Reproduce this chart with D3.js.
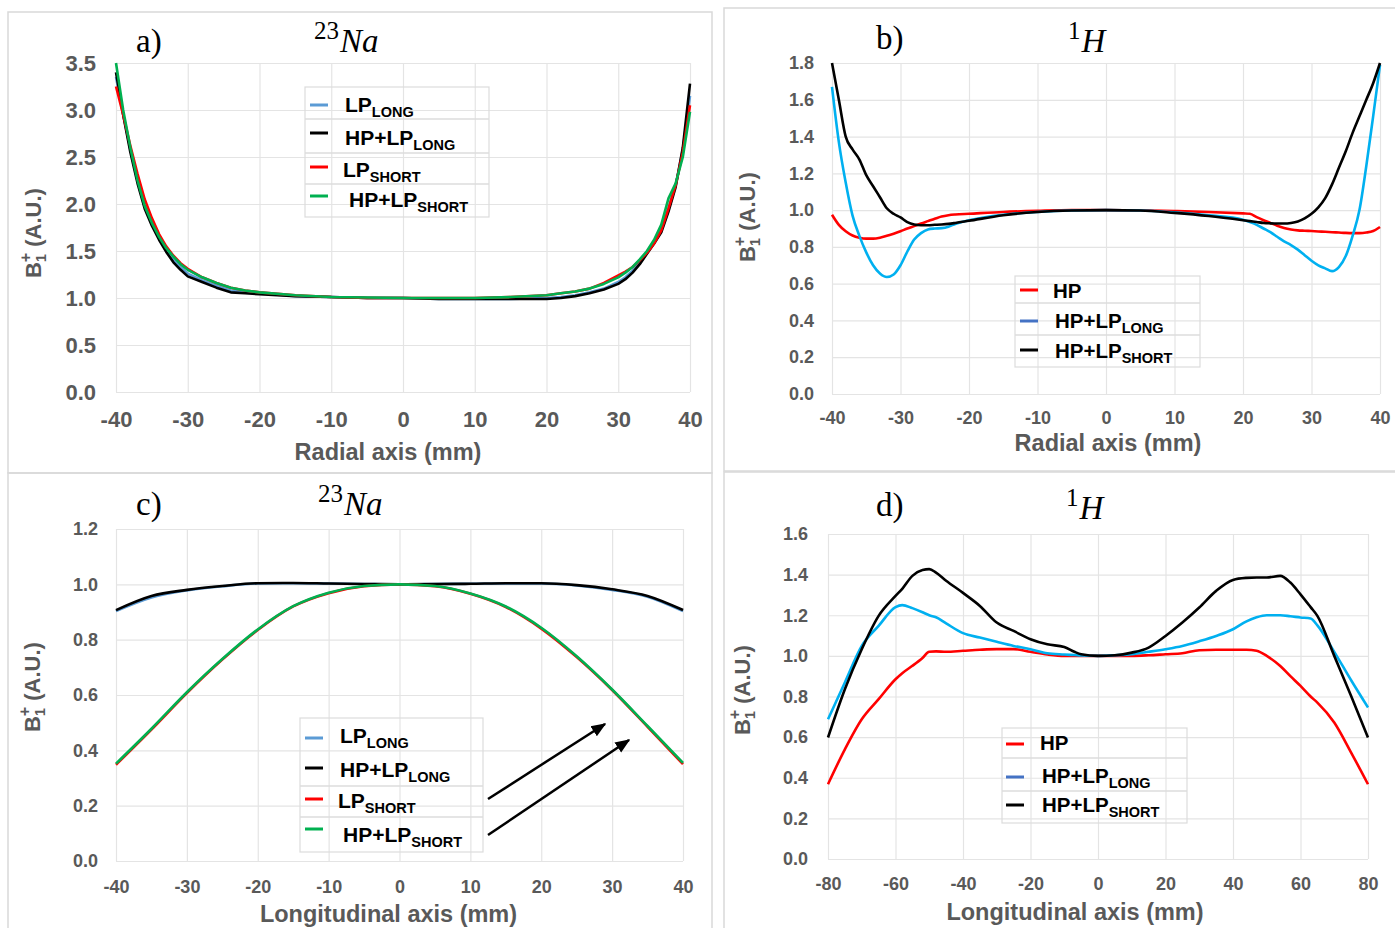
<!DOCTYPE html>
<html><head><meta charset="utf-8">
<script src="https://cdn.jsdelivr.net/npm/d3@7"></script>
<style>body{margin:0;background:#fff;} svg{display:block;}</style>
</head><body>
<svg id="chart" width="1395" height="928"></svg>
<script>
// ---------------- DATA ----------------
const radialTicks = [-40,-30,-20,-10,0,10,20,30,40];
const longTicksC = [-40,-30,-20,-10,0,10,20,30,40];
const longTicksD = [-80,-60,-40,-20,0,20,40,60,80];
const aYTicks = [0,0.5,1.0,1.5,2.0,2.5,3.0,3.5];
const bYTicks = [0,0.2,0.4,0.6,0.8,1.0,1.2,1.4,1.6,1.8];
const cYTicks = [0,0.2,0.4,0.6,0.8,1.0,1.2];
const dYTicks = [0,0.2,0.4,0.6,0.8,1.0,1.2,1.4,1.6];

// Panel a) 23Na radial
const aX = [-40,-39,-38,-37,-36,-35,-34,-33,-32,-31,-30,-28,-26,-24,-22,-20,-15,-10,-5,0,5,10,15,20,22,24,26,28,30,31,32,33,34,35,36,37,38,39,40];
const aLpLong    = [3.35,2.95,2.58,2.25,1.97,1.79,1.64,1.51,1.41,1.33,1.26,1.19,1.13,1.08,1.06,1.05,1.02,1.01,1.0,1.0,0.99,0.99,0.99,1.0,1.01,1.03,1.06,1.10,1.17,1.22,1.29,1.37,1.48,1.60,1.74,1.96,2.20,2.58,3.15];
const aHpLpLong  = [3.40,2.95,2.55,2.22,1.95,1.77,1.62,1.49,1.38,1.30,1.23,1.17,1.11,1.06,1.05,1.04,1.02,1.01,1.0,1.0,0.99,0.99,0.99,0.99,1.0,1.02,1.05,1.09,1.15,1.20,1.27,1.36,1.47,1.58,1.70,1.92,2.18,2.60,3.28];
const aLpShort   = [3.25,2.95,2.62,2.32,2.05,1.85,1.68,1.55,1.45,1.37,1.31,1.22,1.16,1.11,1.08,1.06,1.03,1.01,1.0,1.0,1.0,1.0,1.01,1.03,1.05,1.07,1.10,1.16,1.24,1.28,1.33,1.40,1.48,1.58,1.72,1.95,2.20,2.55,3.05];
const aHpLpShort = [3.50,3.00,2.60,2.25,1.98,1.80,1.65,1.53,1.44,1.36,1.30,1.22,1.16,1.11,1.08,1.06,1.03,1.01,1.005,1.0,1.0,1.0,1.01,1.03,1.05,1.07,1.10,1.15,1.22,1.27,1.33,1.41,1.50,1.62,1.78,2.06,2.22,2.50,2.98];

// Panel b) 1H radial
const bX = [-40,-39,-38,-37,-36,-35,-34,-33,-32,-31,-30,-29,-28,-27,-26,-25,-24,-23,-22,-20,-15,-10,-5,0,5,10,15,20,21,22,23,24,25,26,27,28,29,30,31,32,33,34,35,36,37,38,39,40];
const bHp       = [0.975,0.92,0.885,0.862,0.85,0.845,0.845,0.85,0.86,0.872,0.885,0.90,0.913,0.927,0.94,0.953,0.965,0.972,0.976,0.98,0.99,0.996,1.0,1.0,0.998,0.995,0.99,0.982,0.98,0.962,0.945,0.93,0.915,0.903,0.895,0.89,0.888,0.886,0.884,0.882,0.88,0.878,0.876,0.875,0.875,0.878,0.886,0.908];
const bHpLpLong = [1.67,1.37,1.15,0.97,0.86,0.77,0.70,0.655,0.636,0.65,0.70,0.775,0.84,0.875,0.895,0.90,0.902,0.91,0.925,0.945,0.975,0.99,0.998,1.0,0.998,0.988,0.972,0.948,0.935,0.92,0.90,0.88,0.855,0.83,0.81,0.785,0.755,0.725,0.70,0.683,0.668,0.69,0.75,0.86,1.0,1.24,1.51,1.79];
const bHpLpShort= [1.80,1.60,1.40,1.33,1.275,1.19,1.13,1.07,1.01,0.98,0.96,0.935,0.922,0.918,0.918,0.92,0.922,0.925,0.93,0.942,0.972,0.99,0.998,1.0,0.998,0.985,0.968,0.945,0.94,0.935,0.93,0.928,0.927,0.927,0.93,0.938,0.955,0.98,1.015,1.065,1.14,1.23,1.32,1.42,1.51,1.60,1.69,1.80];

// Panel c) 23Na longitudinal
const cX = [-40,-35,-30,-25,-20,-15,-10,-5,0,5,10,15,20,25,30,35,40];
const cLpLong    = [0.903,0.952,0.978,0.993,1.003,1.004,1.003,1.001,1.0,1.001,1.002,1.003,1.003,0.996,0.980,0.955,0.903];
const cHpLpLong  = [0.907,0.958,0.980,0.994,1.004,1.005,1.003,1.001,1.0,1.001,1.002,1.004,1.004,0.997,0.982,0.958,0.907];
const cLpShort   = [0.348,0.475,0.607,0.728,0.835,0.920,0.968,0.993,1.0,0.993,0.966,0.918,0.840,0.737,0.618,0.485,0.350];
const cHpLpShort = [0.352,0.478,0.610,0.730,0.837,0.921,0.970,0.994,1.0,0.994,0.967,0.920,0.843,0.740,0.620,0.488,0.355];

// Panel d) 1H longitudinal
const dX = [-80,-75,-70,-65,-60,-58,-55,-52,-50,-48,-45,-40,-35,-30,-25,-20,-15,-10,-7,-5,0,5,10,15,20,25,30,35,40,44,47,50,54,57,60,63,65,70,75,80];
const dHp        = [0.368,0.54,0.688,0.787,0.885,0.915,0.951,0.99,1.02,1.022,1.02,1.025,1.03,1.033,1.033,1.02,1.007,1.0,1.0,1.0,1.0,1.0,1.0,1.003,1.008,1.013,1.028,1.03,1.03,1.03,1.025,1.0,0.95,0.90,0.852,0.80,0.77,0.672,0.524,0.368];
const dHpLpLong  = [0.688,0.869,1.049,1.148,1.24,1.25,1.235,1.215,1.20,1.19,1.16,1.112,1.09,1.069,1.049,1.033,1.013,1.007,1.004,1.002,1.0,1.003,1.008,1.02,1.033,1.049,1.072,1.098,1.131,1.17,1.19,1.20,1.20,1.195,1.189,1.184,1.15,1.02,0.88,0.746];
const dHpLpShort = [0.598,0.836,1.033,1.197,1.295,1.33,1.394,1.423,1.427,1.41,1.37,1.31,1.246,1.164,1.123,1.082,1.057,1.044,1.02,1.008,1.0,1.003,1.016,1.041,1.098,1.164,1.238,1.32,1.374,1.384,1.386,1.386,1.394,1.361,1.303,1.24,1.197,1.0,0.803,0.598];

// ---------------- DRAWING ----------------
const svg = d3.select("#chart");
const GRAY = "#595959";
const SANS = "'Liberation Sans', Arial, sans-serif";
const SERIF = "'Liberation Serif', 'Times New Roman', serif";
const C = {blue:"#5B9BD5", black:"#000000", red:"#FF0000", green:"#00B050", cyan:"#00B0F0", legBlue:"#4472C4"};

// panel frames
[[8,12,704,461],[724,8,680,463],[8,473,704,460],[724,472,680,460]].forEach(r=>{
  svg.append("rect").attr("x",r[0]).attr("y",r[1]).attr("width",r[2]).attr("height",r[3])
    .attr("fill","none").attr("stroke","#d9d9d9").attr("stroke-width",1.5);
});

function drawPanel(p){
  const x = d3.scaleLinear().domain([p.xTicks[0], p.xTicks[p.xTicks.length-1]]).range([p.left,p.right]);
  const y = d3.scaleLinear().domain([p.yTicks[0], p.yTicks[p.yTicks.length-1]]).range([p.bottom,p.top]);
  const gx = svg.append("g").attr("transform",`translate(0,${p.bottom})`)
    .call(d3.axisBottom(x).tickValues(p.xTicks).tickSizeInner(-(p.bottom-p.top)).tickSizeOuter(0)
      .tickPadding(p.xPad).tickFormat(d=>String(d)));
  const gy = svg.append("g").attr("transform",`translate(${p.left},0)`)
    .call(d3.axisLeft(y).tickValues(p.yTicks).tickSizeInner(-(p.right-p.left)).tickSizeOuter(0)
      .tickPadding(p.yPad).tickFormat(d3.format(".1f")));
  [gx,gy].forEach(g=>{
    g.select(".domain").remove();
    g.selectAll(".tick line").attr("stroke","#e4e4e4").attr("stroke-width",1.2);
    g.selectAll(".tick text").attr("fill",GRAY).attr("font-family",SANS).attr("font-weight","bold")
      .attr("font-size",p.tickFont);
  });
  // series
  const line = d3.line().curve(p.curve);
  p.series.forEach(s=>{
    const pts = s.ys.map((v,i)=>[x(s.xs[i]), y(v)]);
    svg.append("path").attr("d",line(pts)).attr("fill","none").attr("stroke",s.color)
      .attr("stroke-width",2.6).attr("stroke-linejoin","round");
  });
  // axis titles
  svg.append("text").attr("x",(p.left+p.right)/2 + (p.xtDx||0)).attr("y",p.xtY).attr("text-anchor","middle")
    .attr("font-family",SANS).attr("font-weight","bold").attr("font-size",23.5).attr("fill",GRAY).text(p.xTitle);
  const yt = svg.append("text").attr("transform",`translate(${p.ytX},${p.ytY}) rotate(-90)`).attr("text-anchor","middle")
    .attr("font-family",SANS).attr("font-weight","bold").attr("font-size",22).attr("fill",GRAY);
  yt.append("tspan").text("B");
  yt.append("tspan").attr("font-size",14).attr("dy",5).text("1");
  yt.append("tspan").attr("font-size",16).attr("dx",-8).attr("dy",-15).text("+");
  yt.append("tspan").attr("dy",10).text(" (A.U.)");
  // panel letter and nucleus
  svg.append("text").attr("x",p.letterX).attr("y",p.letterY).attr("font-family",SERIF).attr("font-size",33)
    .attr("fill","#000").text(p.letter);
  const nt = svg.append("text").attr("x",p.nucX).attr("y",p.nucY).attr("font-family",SERIF).attr("fill","#000");
  nt.append("tspan").attr("font-size",25).attr("dy",-13).text(p.massNum);
  nt.append("tspan").attr("font-size",33).attr("font-style","italic").attr("dy",13).attr("dx",1).text(p.element);
  // legend
  const L = p.legend;
  svg.append("rect").attr("x",L.x0).attr("y",L.y0).attr("width",L.x1-L.x0).attr("height",L.y1-L.y0)
    .attr("fill","none").attr("stroke","#dcdcdc").attr("stroke-width",1.2);
  L.seps.forEach(sy=>{
    svg.append("line").attr("x1",L.x0).attr("x2",L.x1).attr("y1",sy).attr("y2",sy)
      .attr("stroke","#dcdcdc").attr("stroke-width",1.6);
  });
  L.rows.forEach((r,i)=>{
    const e = p.legendEntries[i];
    svg.append("line").attr("x1",L.sx0).attr("x2",L.sx1).attr("y1",r.sy).attr("y2",r.sy)
      .attr("stroke",e.color).attr("stroke-width",3);
    const t = svg.append("text").attr("x",r.tx).attr("y",r.ty).attr("font-family",SANS).attr("font-weight","bold")
      .attr("font-size",L.font).attr("fill","#000");
    t.append("tspan").text(e.label[0]);
    if(e.label[1]) t.append("tspan").attr("font-size",L.subFont).attr("dy",5).text(e.label[1]);
  });
}

drawPanel({
  left:116,right:690,top:63,bottom:392, xTicks:radialTicks, yTicks:aYTicks, xPad:19, yPad:20, tickFont:22,
  curve:d3.curveLinear,
  series:[
    {xs:aX, ys:aLpLong, color:C.blue},
    {xs:aX, ys:aHpLpLong, color:C.black},
    {xs:aX, ys:aLpShort, color:C.red},
    {xs:aX, ys:aHpLpShort, color:C.green}],
  xTitle:"Radial axis (mm)", xtDx:-15, xtY:460, ytX:41, ytY:233,
  letter:"a)", letterX:136, letterY:52, nucX:314, nucY:52, massNum:"23", element:"Na",
  legend:{x0:305,y0:87,x1:489,y1:217, seps:[119,153,184], sx0:310, sx1:328, font:21, subFont:14.5,
    rows:[{sy:105,tx:345,ty:112},{sy:133,tx:345,ty:145},{sy:167,tx:343,ty:177},{sy:196,tx:349,ty:207}]},
  legendEntries:[
    {label:["LP","LONG"], color:C.blue},{label:["HP+LP","LONG"], color:C.black},
    {label:["LP","SHORT"], color:C.red},{label:["HP+LP","SHORT"], color:C.green}]
});

drawPanel({
  left:832,right:1380,top:63,bottom:394, xTicks:radialTicks, yTicks:bYTicks, xPad:17, yPad:18, tickFont:18,
  curve:d3.curveMonotoneX,
  series:[
    {xs:bX, ys:bHp, color:C.red},
    {xs:bX, ys:bHpLpLong, color:C.cyan},
    {xs:bX, ys:bHpLpShort, color:C.black}],
  xTitle:"Radial axis (mm)", xtDx:2, xtY:451, ytX:755, ytY:217,
  letter:"b)", letterX:876, letterY:49, nucX:1068, nucY:52, massNum:"1", element:"H",
  legend:{x0:1015,y0:276,x1:1200,y1:367, seps:[303,335], sx0:1020, sx1:1038, font:20.5, subFont:14.5,
    rows:[{sy:290,tx:1053,ty:298},{sy:321,tx:1055,ty:328},{sy:350,tx:1055,ty:358}]},
  legendEntries:[
    {label:["HP"], color:C.red},{label:["HP+LP","LONG"], color:C.legBlue},{label:["HP+LP","SHORT"], color:C.black}]
});

drawPanel({
  left:116,right:683,top:529,bottom:861, xTicks:longTicksC, yTicks:cYTicks, xPad:19, yPad:18, tickFont:18,
  curve:d3.curveMonotoneX,
  series:[
    {xs:cX, ys:cLpLong, color:C.blue},
    {xs:cX, ys:cHpLpLong, color:C.black},
    {xs:cX, ys:cLpShort, color:C.red},
    {xs:cX, ys:cHpLpShort, color:C.green}],
  xTitle:"Longitudinal axis (mm)", xtDx:-11, xtY:922, ytX:40, ytY:687,
  letter:"c)", letterX:136, letterY:515, nucX:318, nucY:515, massNum:"23", element:"Na",
  legend:{x0:300,y0:718,x1:483,y1:852, seps:[786,817], sx0:305, sx1:323, font:21, subFont:14.5,
    rows:[{sy:738,tx:340,ty:743},{sy:768,tx:340,ty:777},{sy:799,tx:338,ty:808},{sy:829,tx:343,ty:842}]},
  legendEntries:[
    {label:["LP","LONG"], color:C.blue},{label:["HP+LP","LONG"], color:C.black},
    {label:["LP","SHORT"], color:C.red},{label:["HP+LP","SHORT"], color:C.green}]
});

drawPanel({
  left:828,right:1368,top:534,bottom:859, xTicks:longTicksD, yTicks:dYTicks, xPad:18, yPad:20, tickFont:18,
  curve:d3.curveMonotoneX,
  series:[
    {xs:dX, ys:dHp, color:C.red},
    {xs:dX, ys:dHpLpLong, color:C.cyan},
    {xs:dX, ys:dHpLpShort, color:C.black}],
  xTitle:"Longitudinal axis (mm)", xtDx:-23, xtY:920, ytX:750, ytY:690,
  letter:"d)", letterX:876, letterY:516, nucX:1066, nucY:519, massNum:"1", element:"H",
  legend:{x0:1002,y0:728,x1:1187,y1:823, seps:[758,791], sx0:1006, sx1:1024, font:20.5, subFont:14.5,
    rows:[{sy:744,tx:1040,ty:750},{sy:777,tx:1042,ty:783},{sy:805,tx:1042,ty:812}]},
  legendEntries:[
    {label:["HP"], color:C.red},{label:["HP+LP","LONG"], color:C.legBlue},{label:["HP+LP","SHORT"], color:C.black}]
});

// arrows in panel c
const defs = svg.append("defs");
defs.append("marker").attr("id","arrow").attr("viewBox","0 0 10 10").attr("refX",9).attr("refY",5)
  .attr("markerWidth",6).attr("markerHeight",6).attr("orient","auto").attr("markerUnits","strokeWidth")
  .append("path").attr("d","M0,1 L10,5 L0,9 Z").attr("fill","#000");
[[488,799,605,724],[488,835,629,740]].forEach(a=>{
  svg.append("line").attr("x1",a[0]).attr("y1",a[1]).attr("x2",a[2]).attr("y2",a[3])
    .attr("stroke","#000").attr("stroke-width",2.5).attr("marker-end","url(#arrow)");
});
</script></body></html>
